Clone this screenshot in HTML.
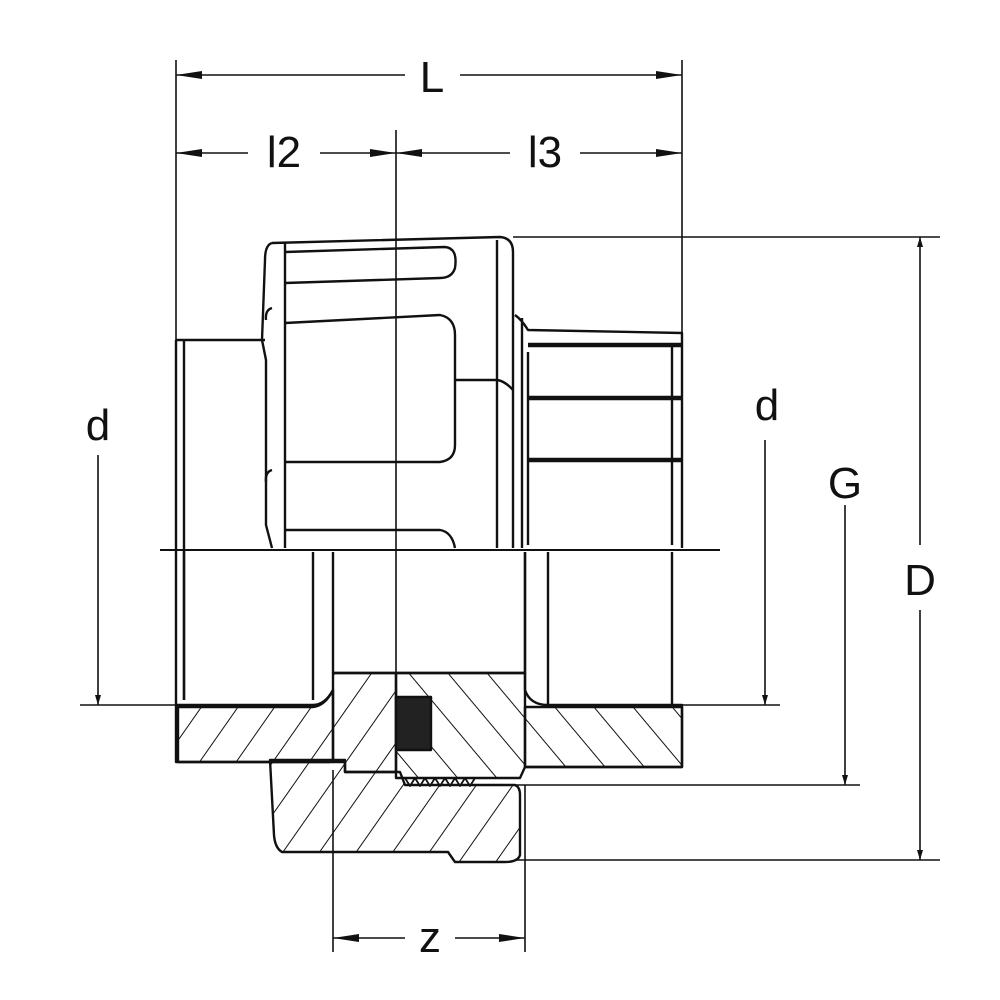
<!DOCTYPE html>
<html><head><meta charset="utf-8"><style>
html,body{margin:0;padding:0;background:#fff}
svg{display:block}
text{font-family:"Liberation Sans",sans-serif;fill:#111}
</style></head><body>
<svg width="1000" height="1000" viewBox="0 0 1000 1000" xmlns="http://www.w3.org/2000/svg">
<defs>
<marker id="a" viewBox="0 0 10 6" refX="10" refY="3" markerWidth="10" markerHeight="6" markerUnits="userSpaceOnUse" orient="auto-start-reverse"><path d="M0,0L10,3L0,6z" fill="#111"/></marker>
<marker id="b" viewBox="0 0 26 8" refX="26" refY="4" markerWidth="26" markerHeight="8" markerUnits="userSpaceOnUse" orient="auto-start-reverse"><path d="M0,0L26,4L0,8z" fill="#111"/></marker>
<pattern id="hf" patternUnits="userSpaceOnUse" width="30" height="30" patternTransform="rotate(35)"><line x1="0" y1="0" x2="0" y2="30" stroke="#111" stroke-width="2"/></pattern>
<pattern id="hb" patternUnits="userSpaceOnUse" width="30" height="30" patternTransform="rotate(-40)"><line x1="0" y1="0" x2="0" y2="30" stroke="#111" stroke-width="2"/></pattern>
</defs>
<g stroke="#111" fill="none" stroke-width="1.6">
<line x1="176" y1="60" x2="176" y2="340"/>
<line x1="682" y1="60" x2="682" y2="335"/>
<line x1="396" y1="130" x2="396" y2="697"/>
<line x1="513" y1="237" x2="940" y2="237"/>
<line x1="80" y1="705" x2="176" y2="705"/>
<line x1="682" y1="705" x2="780" y2="705"/>
<line x1="515" y1="785" x2="860" y2="785"/>
<line x1="515" y1="860" x2="940" y2="860"/>
<line x1="333" y1="770" x2="333" y2="952"/>
<line x1="525" y1="785" x2="525" y2="952"/>
<line x1="160" y1="550" x2="720" y2="550" stroke-width="2"/>
<line x1="176" y1="75" x2="405" y2="75" marker-start="url(#b)"/>
<line x1="460" y1="75" x2="682" y2="75" marker-end="url(#b)"/>
<line x1="176" y1="153" x2="248" y2="153" marker-start="url(#b)"/>
<line x1="320" y1="153" x2="396" y2="153" marker-end="url(#b)"/>
<line x1="396" y1="153" x2="510" y2="153" marker-start="url(#b)"/>
<line x1="580" y1="153" x2="682" y2="153" marker-end="url(#b)"/>
<line x1="920" y1="237" x2="920" y2="545" marker-start="url(#a)"/>
<line x1="920" y1="610" x2="920" y2="860" marker-end="url(#a)"/>
<line x1="845" y1="505" x2="845" y2="785" marker-end="url(#a)"/>
<line x1="765" y1="440" x2="765" y2="705" marker-end="url(#a)"/>
<line x1="98" y1="455" x2="98" y2="705" marker-end="url(#a)"/>
<line x1="333" y1="938" x2="405" y2="938" marker-start="url(#b)"/>
<line x1="455" y1="938" x2="525" y2="938" marker-end="url(#b)"/>
</g>
<g stroke="#111" fill="none" stroke-width="2.4" stroke-linejoin="round">
<path d="M176,340 H265 M176,340 V762 H330 M184,340 V700"/>
<path d="M184,550 V700 M313,552 V700 M176,705 H313 Q325,705 333,690"/>
<path d="M272,243 Q265,245 265,260 L262,340 L266,360 V525 L272,548 M272,243 L500,237 Q513,238 513,252 V548"/>
<path d="M285,243 V548 M497,240 V548 M455,380 H497 Q505,381 513,390"/>
<path d="M285,252 L445,247 Q458,248 455,268 Q452,278 440,278 L285,283"/>
<path d="M285,323 L440,315 Q455,318 455,335 V445 Q455,460 440,462 L285,462"/>
<path d="M285,530 H440 Q452,532 455,548"/>
<path d="M272,308 Q265,310 266,320 M272,470 Q265,472 266,482"/>
<path d="M515,315 Q522,320 528,330 L682,333 V548 M522,318 V548"/>
<path d="M528,345 H682 M528,398 H682 M528,460 H682" stroke-width="4.5"/>
<path d="M528,352 V545 M672,345 V545"/>
<path d="M333,552 V673 H525 V552"/>
<path d="M525,552 V690 Q530,705 548,705 H682 V767 H525 M548,552 V705 M672,552 V705"/>
</g>
<g stroke="#111" stroke-width="2.4" stroke-linejoin="round">
<path d="M178,707 H313 Q325,706 333,690 V762 H178 Z" fill="url(#hf)"/>
<path d="M333,673 H396 V772 H345 V762 H333 Z" fill="url(#hf)"/>
<path d="M396,673 H525 V767 L520,778 H396 Z" fill="url(#hb)"/>
<path d="M525,707 H682 V767 H525 Z" fill="url(#hb)"/>
<path d="M270,760 H345 V772 H400 L405,785 H515 Q520,787 520,795 V855 Q518,862 505,862 H455 L448,852 H282 Q275,848 274,835 Z" fill="url(#hf)"/>
<path d="M405,778 l5,8 l5,-8 l5,8 l5,-8 l5,8 l5,-8 l5,8 l5,-8 l5,8 l5,-8 l5,8 l5,-8 l5,8 l5,-8" fill="none" stroke-width="1.8"/>
<rect x="396" y="697" width="35" height="53" fill="#222"/>
</g>
<g font-size="44">
<text x="432" y="92" text-anchor="middle">L</text>
<text x="284" y="167" text-anchor="middle">l2</text>
<text x="545" y="167" text-anchor="middle">l3</text>
<text x="98" y="440" text-anchor="middle">d</text>
<text x="767" y="420" text-anchor="middle">d</text>
<text x="845" y="498" text-anchor="middle">G</text>
<text x="920" y="595" text-anchor="middle">D</text>
<text x="430" y="952" text-anchor="middle">z</text>
</g>
</svg>
</body></html>
